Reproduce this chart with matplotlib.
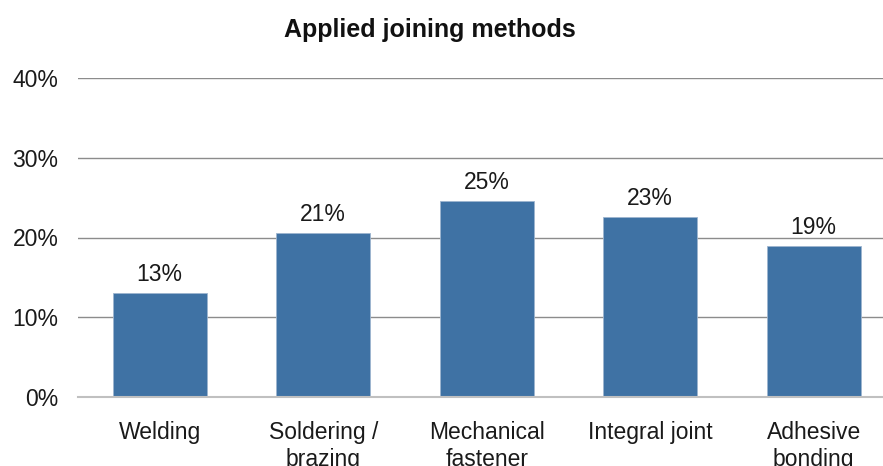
import matplotlib
matplotlib.use("Agg")
import matplotlib.pyplot as plt

categories = ["Welding", "Soldering /\nbrazing", "Mechanical\nfastener", "Integral joint", "Adhesive\nbonding"]
values = [13.1, 20.6, 24.6, 22.6, 18.9]
value_labels = ["13%", "21%", "25%", "23%", "19%"]
yticks = [0, 10, 20, 30, 40]
ytick_labels = ["0%", "10%", "20%", "30%", "40%"]

plt.rcParams['font.family'] = ['Liberation Sans', 'DejaVu Sans']

W, H = 883, 466
fig = plt.figure(figsize=(W / 100, H / 100), dpi=100)
left, right = 78, 895.5
bottom, top = 397, 78
ax = fig.add_axes([left / W, 1 - bottom / H, (right - left) / W, (bottom - top) / H])

x = list(range(len(categories)))
bars = ax.bar(x, values, width=0.575, color="#3F72A4", edgecolor="#9db5cf", linewidth=0.6, zorder=3)
for xi, v, lab in zip(x, values, value_labels):
    ax.annotate(lab, (xi, v), xytext=(0, 5), textcoords="offset points",
                ha="center", va="bottom", fontsize=16.5, color="#1a1a1a", zorder=4)

ax.set_xlim(-0.5, len(categories) - 0.5)
ax.set_ylim(0, 40)
ax.set_yticks(yticks)
ax.set_yticklabels(ytick_labels)
ax.set_xticks(x)
ax.set_xticklabels(categories, linespacing=1.25)
ax.tick_params(axis="y", length=0, pad=14, labelsize=16.5, labelcolor="#1a1a1a")
ax.tick_params(axis="x", length=0, pad=17, labelsize=16.5, labelcolor="#1a1a1a")
ax.yaxis.grid(True, color="#8c8c8c", linewidth=1.0, zorder=0)
for s in ["left", "right", "top"]:
    ax.spines[s].set_visible(False)
ax.spines["bottom"].set_color("#c0c0c0")
ax.spines["bottom"].set_linewidth(1.5)
ax.spines["bottom"].set_zorder(5)

fig.text(430 / W, 1 - 37 / H, "Applied joining methods", ha="center", va="baseline",
         fontsize=18, fontweight="bold", color="#111111")

fig.savefig("out.png", dpi=100)
